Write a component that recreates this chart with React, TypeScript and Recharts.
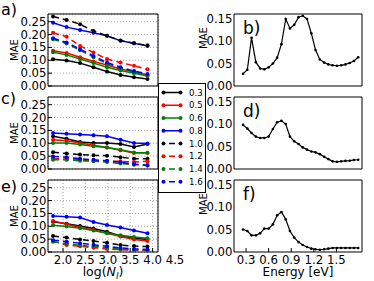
import React from 'react';
import { LineChart, Line, XAxis, YAxis, CartesianGrid, Label, Text } from 'recharts';

const FONT = '"DejaVu Sans", sans-serif';

// ---------- data: left panels (a, c, e) ----------
const logN = [1.778, 2.079, 2.38, 2.681, 2.982, 3.283, 3.584, 3.885];
const logTicks = [2.0, 2.5, 3.0, 3.5, 4.0];
const extraLogTick = 4.5;
const leftMaeTicks = [0, 0.05, 0.1, 0.15, 0.2, 0.25];

const seriesNames = ['0.3', '0.5', '0.6', '0.8', '1.0', '1.2', '1.4', '1.6'];
const seriesColors = ['#000000', '#ff0000', '#008000', '#0000ff', '#000000', '#ff0000', '#008000', '#0000ff'];
const seriesDashed = [false, false, false, false, true, true, true, true];

const a03 = [0.104, 0.099, 0.089, 0.073, 0.056, 0.043, 0.034, 0.027];
const a05 = [0.137, 0.128, 0.112, 0.095, 0.082, 0.066, 0.056, 0.043];
const a06 = [0.131, 0.121, 0.105, 0.089, 0.073, 0.06, 0.05, 0.039];
const a08 = [0.246, 0.229, 0.218, 0.207, 0.195, 0.176, 0.166, 0.156];
const a10 = [0.27, 0.257, 0.24, 0.214, 0.195, 0.177, 0.166, 0.158];
const a12 = [0.207, 0.192, 0.156, 0.13, 0.105, 0.091, 0.079, 0.065];
const a14 = [0.182, 0.165, 0.139, 0.112, 0.087, 0.069, 0.054, 0.043];
const a16 = [0.186, 0.169, 0.143, 0.117, 0.091, 0.073, 0.058, 0.047];

const c03 = [0.127, 0.118, 0.105, 0.101, 0.101, 0.097, 0.086, 0.097];
const c05 = [0.114, 0.11, 0.101, 0.092, 0.084, 0.073, 0.062, 0.062];
const c06 = [0.101, 0.101, 0.095, 0.088, 0.084, 0.075, 0.064, 0.063];
const c08 = [0.14, 0.137, 0.134, 0.131, 0.127, 0.114, 0.101, 0.099];
const c10 = [0.065, 0.06, 0.056, 0.053, 0.052, 0.046, 0.04, 0.04];
const c12 = [0.04, 0.039, 0.036, 0.032, 0.03, 0.03, 0.027, 0.03];
const c14 = [0.036, 0.036, 0.032, 0.03, 0.027, 0.021, 0.017, 0.017];
const c16 = [0.049, 0.046, 0.04, 0.036, 0.032, 0.026, 0.019, 0.014];

const e03 = [0.118, 0.11, 0.101, 0.091, 0.079, 0.062, 0.053, 0.049];
const e05 = [0.121, 0.108, 0.095, 0.086, 0.073, 0.06, 0.049, 0.043];
const e06 = [0.104, 0.099, 0.092, 0.084, 0.073, 0.065, 0.058, 0.053];
const e08 = [0.14, 0.137, 0.134, 0.117, 0.105, 0.095, 0.084, 0.073];
const e10 = [0.062, 0.056, 0.049, 0.043, 0.036, 0.027, 0.023, 0.021];
const e12 = [0.042, 0.027, 0.022, 0.017, 0.012, 0.009, 0.007, 0.006];
const e14 = [0.04, 0.032, 0.026, 0.021, 0.016, 0.011, 0.009, 0.008];
const e16 = [0.046, 0.04, 0.034, 0.028, 0.022, 0.016, 0.012, 0.01];

// ---------- data: right panels (b, d, f) ----------
const energies = [
  0.26, 0.317, 0.373, 0.43, 0.487, 0.543, 0.6, 0.657, 0.713, 0.77, 0.827, 0.883, 0.94, 0.997,
  1.053, 1.11, 1.167, 1.223, 1.28, 1.337, 1.393, 1.45, 1.507, 1.563, 1.62, 1.677, 1.733, 1.79,
];
const energyTicks = [0.3, 0.6, 0.9, 1.2, 1.5];
const rightMaeTicks = [0, 0.05, 0.1, 0.15];

const maeB = [
  0.027, 0.036, 0.107, 0.053, 0.039, 0.037, 0.0415, 0.05, 0.063, 0.093, 0.149, 0.128, 0.136, 0.153,
  0.156, 0.149, 0.117, 0.08, 0.059, 0.052, 0.048, 0.046, 0.045, 0.046, 0.048, 0.051, 0.0555, 0.064,
];
const maeD = [
  0.098, 0.09, 0.08, 0.072, 0.069, 0.069, 0.072, 0.089, 0.104, 0.107, 0.1, 0.072, 0.0615, 0.0555,
  0.048, 0.043, 0.039, 0.037, 0.033, 0.027, 0.022, 0.017, 0.016, 0.017, 0.018, 0.0185, 0.02, 0.0205,
];
const maeF = [
  0.05, 0.0467, 0.037, 0.037, 0.0415, 0.052, 0.052, 0.0615, 0.0815, 0.089, 0.0725, 0.0467, 0.032, 0.022,
  0.0155, 0.011, 0.0075, 0.006, 0.005, 0.006, 0.0075, 0.009, 0.009, 0.009, 0.009, 0.009, 0.009, 0.009,
];

// ---------- layout ----------
const ROWS = [14, 97, 180];
const PLOT_H = 72;
const YW = 40;
const MT = 6;
const XH = 28;
const LEFT_L = 48;
const LEFT_W = 110;
const RIGHT_L = 234;
const RIGHT_W = 128;
const LOG_DOMAIN: [number, number] = [1.665, 4.12];
const LEFT_Y_DOMAIN: [number, number] = [0, 0.28];
const E_DOMAIN: [number, number] = [0.14, 1.84];
const RIGHT_Y_DOMAIN: [number, number] = [0, 0.16];
const TICK_FS = 11.7;

const maeLabel = (dx: number, dy: number) => (props: any) => {
  const vb = props.viewBox || { x: 0, y: 0, width: 0, height: 0 };
  const x = vb.x + dx;
  const y = vb.y + vb.height / 2 + dy;
  return (
    <text x={x} y={y} transform={`rotate(-90 ${x} ${y})`} textAnchor="middle" fontSize={10} fontFamily={FONT} fill="#000">
      MAE
    </text>
  );
};

// right-panel y axis: tick labels (and optional MAE title) laid out along the axis viewBox
const rightAxisLabels = (showTitle: boolean) => (props: any) => {
  const vb = props.viewBox || { x: 0, y: 0, width: 0, height: 0 };
  const span = RIGHT_Y_DOMAIN[1] - RIGHT_Y_DOMAIN[0];
  const tx = vb.x + 13;
  const ty = vb.y + vb.height / 2 - 12;
  return (
    <g>
      {rightMaeTicks.map((t) => {
        const y = vb.y + vb.height * (1 - (t - RIGHT_Y_DOMAIN[0]) / span);
        return (
          <text key={t} x={vb.x + vb.width - 1.5} y={y + 4} textAnchor="end" fontSize={TICK_FS} fontFamily={FONT} fill="#000">
            {t.toFixed(2)}
          </text>
        );
      })}
      {showTitle && (
        <text x={tx} y={ty} transform={`rotate(-90 ${tx} ${ty})`} textAnchor="middle" fontSize={10} fontFamily={FONT} fill="#000">
          MAE
        </text>
      )}
    </g>
  );
};

const logLabel = (props: any) => {
  const vb = props.viewBox || { x: 0, y: 0, width: 0, height: 0 };
  const x = vb.x + vb.width / 2;
  const y = vb.y + 24;
  return (
    <text x={x} y={y} textAnchor="middle" fontSize={12.5} fontFamily={FONT} fill="#000">
      log(<tspan fontStyle="italic">N</tspan>
      <tspan fontStyle="italic" fontSize={9} dy={2.5}>l</tspan>
      <tspan dy={-2.5}>)</tspan>
    </text>
  );
};

const energyLabel = (props: any) => {
  const vb = props.viewBox || { x: 0, y: 0, width: 0, height: 0 };
  const x = vb.x + vb.width / 2;
  const y = vb.y + 24;
  return (
    <text x={x} y={y} textAnchor="middle" fontSize={12} fontFamily={FONT} fill="#000">
      Energy [eV]
    </text>
  );
};

const pxPerLog = LEFT_W / (LOG_DOMAIN[1] - LOG_DOMAIN[0]);

const XTick = (digits: number, extra?: { last: number; value: number; pxPerUnit: number }) => (props: any) => {
  const { x, y, payload } = props;
  const v = payload.value as number;
  return (
    <g>
      <Text x={x} y={y} textAnchor="middle" verticalAnchor="start" fontSize={TICK_FS} fontFamily={FONT} fill="#000">
        {v.toFixed(digits)}
      </Text>
      {extra && v === extra.last && (
        <Text
          x={x + (extra.value - v) * extra.pxPerUnit}
          y={y}
          textAnchor="middle"
          verticalAnchor="start"
          fontSize={TICK_FS}
          fontFamily={FONT}
          fill="#000"
        >
          {extra.value.toFixed(digits)}
        </Text>
      )}
    </g>
  );
};

const YTick = (props: any) => {
  const { x, y, payload } = props;
  const v = payload.value as number;
  return (
    <text x={x} y={y + 4} textAnchor="end" fontSize={TICK_FS} fontFamily={FONT} fill="#000">
      {v.toFixed(2)}
    </text>
  );
};

const logTickRenderer = XTick(1, { last: logTicks[logTicks.length - 1], value: extraLogTick, pxPerUnit: pxPerLog });
const energyTickRenderer = XTick(1);

function LeftPanel({ top, values, showX }: { top: number; values: number[][]; showX: boolean }) {
  const mr = 26;
  const width = YW + LEFT_W + mr;
  const height = MT + PLOT_H + XH;
  const data = logN.map((x, i) => {
    const row: any = { x };
    values.forEach((arr, k) => {
      row['s' + k] = arr[i];
    });
    return row;
  });
  return (
    <div style={{ position: 'absolute', left: LEFT_L - YW, top: top - MT }}>
      <LineChart width={width} height={height} data={data} margin={{ top: MT, right: mr, bottom: 0, left: 0 }}>
        <CartesianGrid stroke="#808080" strokeDasharray="1 2" strokeWidth={0.7} />
        <XAxis
          dataKey="x"
          type="number"
          domain={LOG_DOMAIN}
          allowDataOverflow
          ticks={logTicks}
          interval={0}
          height={XH}
          stroke="#000"
          tickSize={-4}
          tickMargin={8}
          tick={showX ? logTickRenderer : false}
        >
          {showX && <Label content={logLabel} />}
        </XAxis>
        <XAxis
          xAxisId="top"
          type="number"
          orientation="top"
          mirror
          domain={LOG_DOMAIN}
          allowDataOverflow
          ticks={logTicks}
          interval={0}
          stroke="#000"
          tickSize={4}
          tick={false}
        />
        <YAxis
          type="number"
          domain={LEFT_Y_DOMAIN}
          allowDataOverflow
          ticks={leftMaeTicks}
          interval={0}
          width={YW}
          stroke="#000"
          tickSize={-4}
          tickMargin={5.5}
          tick={YTick}
        >
          <Label content={maeLabel(10, 0)} />
        </YAxis>
        <YAxis
          yAxisId="right"
          type="number"
          orientation="right"
          mirror
          domain={LEFT_Y_DOMAIN}
          allowDataOverflow
          ticks={leftMaeTicks}
          interval={0}
          stroke="#000"
          tickSize={4}
          tick={false}
        />
        {seriesNames.map((name, k) => (
          <Line
            key={name}
            dataKey={'s' + k}
            name={name}
            stroke={seriesColors[k]}
            strokeWidth={1.5}
            strokeDasharray={seriesDashed[k] ? '6 4' : undefined}
            dot={{ r: 2, fill: seriesColors[k], stroke: seriesColors[k], strokeWidth: 0 }}
            isAnimationActive={false}
          />
        ))}
      </LineChart>
    </div>
  );
}

function RightPanel({ top, values, showX, showYLabel }: { top: number; values: number[]; showX: boolean; showYLabel: boolean }) {
  const mr = 8;
  const width = YW + RIGHT_W + mr;
  const height = MT + PLOT_H + XH;
  const data = energies.map((x, i) => ({ x, mae: values[i] }));
  return (
    <div style={{ position: 'absolute', left: RIGHT_L - YW, top: top - MT }}>
      <LineChart width={width} height={height} data={data} margin={{ top: MT, right: mr, bottom: 0, left: 0 }}>
        <XAxis
          dataKey="x"
          type="number"
          domain={E_DOMAIN}
          allowDataOverflow
          ticks={energyTicks}
          interval={0}
          height={XH}
          stroke="#000"
          tickSize={-4}
          tickMargin={8}
          tick={showX ? energyTickRenderer : false}
        >
          {showX && <Label content={energyLabel} />}
        </XAxis>
        <XAxis
          xAxisId="top"
          type="number"
          orientation="top"
          mirror
          domain={E_DOMAIN}
          allowDataOverflow
          ticks={energyTicks}
          interval={0}
          stroke="#000"
          tickSize={4}
          tick={false}
        />
        <YAxis
          type="number"
          domain={RIGHT_Y_DOMAIN}
          allowDataOverflow
          ticks={rightMaeTicks}
          interval={0}
          width={YW}
          stroke="#000"
          tickSize={-4}
          tickMargin={5.5}
          tick={false}
        >
          <Label content={rightAxisLabels(showYLabel)} />
        </YAxis>
        <YAxis
          yAxisId="right"
          type="number"
          orientation="right"
          mirror
          domain={RIGHT_Y_DOMAIN}
          allowDataOverflow
          ticks={rightMaeTicks}
          interval={0}
          stroke="#000"
          tickSize={4}
          tick={false}
        />
        <Line
          dataKey="mae"
          stroke="#000"
          strokeWidth={1.2}
          dot={{ r: 1.3, fill: '#000', stroke: '#000', strokeWidth: 0 }}
          isAnimationActive={false}
        />
      </LineChart>
    </div>
  );
}

function LegendBox() {
  const rowH = 12.75;
  return (
    <svg width={49} height={111} style={{ position: 'absolute', left: 157.5, top: 82.5 }}>
      <rect x={0.5} y={0.5} width={47} height={109} fill="#fff" stroke="#000" strokeWidth={1} />
      {seriesNames.map((name, k) => {
        const y = 9.5 + k * rowH;
        return (
          <g key={name}>
            <line
              x1={5.5}
              x2={22.5}
              y1={y}
              y2={y}
              stroke={seriesColors[k]}
              strokeWidth={1.5}
              strokeDasharray={seriesDashed[k] ? '0 5.5 6 5.5' : undefined}
            />
            <circle cx={5.5} cy={y} r={2} fill={seriesColors[k]} />
            <circle cx={22.5} cy={y} r={2} fill={seriesColors[k]} />
            <text x={31} y={y + 3} fontSize={8.6} fontFamily={FONT} fill="#000">
              {name}
            </text>
          </g>
        );
      })}
    </svg>
  );
}

const panelLetters = [
  { t: 'a)', x: 1, y: 15, fs: 16 },
  { t: 'c)', x: 1, y: 104, fs: 16 },
  { t: 'e)', x: 1, y: 192, fs: 16 },
  { t: 'b)', x: 243, y: 34, fs: 17 },
  { t: 'd)', x: 243, y: 117, fs: 17 },
  { t: 'f)', x: 243, y: 200, fs: 17 },
];

export default function App() {
  return (
    <div style={{ position: 'absolute', left: 0, top: 0, width: 374, height: 281, background: '#fff', overflow: 'hidden' }}>
      <svg width={374} height={281} style={{ position: 'absolute', left: 0, top: 0 }}>
        {panelLetters.map((p) => (
          <text key={p.t} x={p.x} y={p.y} fontSize={p.fs} fontFamily={FONT} fill="#000">
            {p.t}
          </text>
        ))}
      </svg>
      <LeftPanel top={ROWS[0]} values={[a03, a05, a06, a08, a10, a12, a14, a16]} showX={false} />
      <LeftPanel top={ROWS[1]} values={[c03, c05, c06, c08, c10, c12, c14, c16]} showX={false} />
      <LeftPanel top={ROWS[2]} values={[e03, e05, e06, e08, e10, e12, e14, e16]} showX={true} />
      <LegendBox />
      <RightPanel top={ROWS[0]} values={maeB} showX={false} showYLabel={true} />
      <RightPanel top={ROWS[1]} values={maeD} showX={false} showYLabel={false} />
      <RightPanel top={ROWS[2]} values={maeF} showX={true} showYLabel={true} />
    </div>
  );
}
